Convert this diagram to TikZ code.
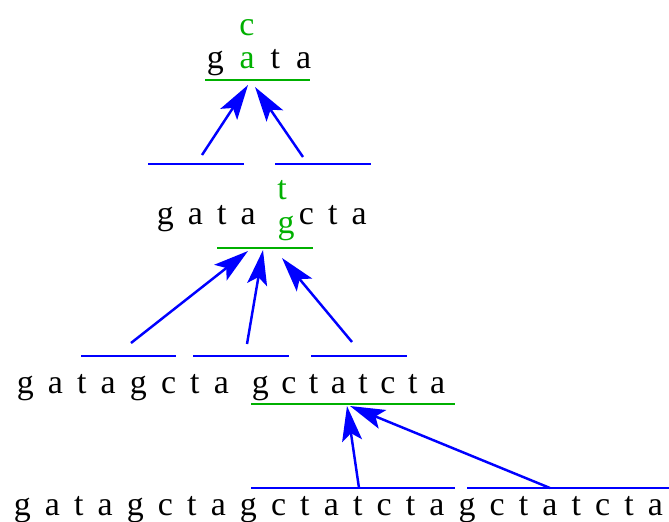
\documentclass[tikz,border=0pt]{standalone}
\usepackage{fontspec}
\setmainfont{Liberation Serif}
\usetikzlibrary{arrows.meta}
\definecolor{seqgreen}{RGB}{0,176,0}
\newcommand\seqfont{\fontsize{19.3}{22}\selectfont\spaceskip=.417em\relax}

\begin{document}
\begin{tikzpicture}[x=0.02cm, y=-0.02cm,
  seq/.style={font=\seqfont, inner sep=0pt, anchor=base west},
  sub/.style={seq, anchor=base, text=seqgreen},
  blueline/.style={blue, line width=1.4pt},
  greenline/.style={seqgreen, line width=1.4pt},
  link/.style={blue, line width=1.4pt, -{Stealth[length=0.7cm, width=0.4cm, inset=0.15cm]}}]
\useasboundingbox (0,0) rectangle (669,521);

% Top row
\node[seq, font={\seqfont\spaceskip=.47em\relax}] (top) at (206.5,68) {g \textcolor{seqgreen}{a} t a};
\node[sub] (topc) at (247,35) {c};
\draw[greenline] (205,80) -- (310,80);

% Second row
\node[seq] (midl) at (156.5,224) {g a t a};
\node[sub] (midt) at (282,199) {t};
\node[sub] (midg) at (286,233) {g};
\node[seq] (midr) at (298.5,224) {c t a};
\draw[blueline] (148,164) -- (244,164);
\draw[blueline] (275,164) -- (371,164);
\draw[greenline] (217,248) -- (313,248);

% Third row
\node[seq] (lowl) at (16.5,393) {g a t a g c t a};
\node[seq, font={\seqfont\spaceskip=.37em\relax}] (lowr) at (251.5,393) {g c t a t c t a};
\draw[blueline] (81,356) -- (176,356);
\draw[blueline] (193,356) -- (289,356);
\draw[blueline] (311,356) -- (407,356);
\draw[greenline] (251,404) -- (455,404);

% Bottom row
\node[seq] (base) at (13.5,515) {g a t a g c t a g c t a t c t a g c t a t c t a};
\draw[blueline] (251,488) -- (455,488);
\draw[blueline] (467,488) -- (669,488);

% Arrow ends
\coordinate (topin1) at (248,85);
\coordinate (topin2) at (255,87);
\coordinate (topout1) at (202,155);
\coordinate (topout2) at (303,157);
\coordinate (midin1) at (248,251);
\coordinate (midin2) at (263,250);
\coordinate (midin3) at (282,258);
\coordinate (midout1) at (131,343);
\coordinate (midout2) at (247,344);
\coordinate (midout3) at (352,342);
\coordinate (lowin1) at (347,406);
\coordinate (lowin2) at (350,406);
\coordinate (lowout1) at (359,488);
\coordinate (lowout2) at (550,488);

% Arrows
\draw[link] (topout1) -- (topin1);
\draw[link] (topout2) -- (topin2);
\draw[link] (midout1) -- (midin1);
\draw[link] (midout2) -- (midin2);
\draw[link] (midout3) -- (midin3);
\draw[link] (lowout1) -- (lowin1);
\draw[link] (lowout2) -- (lowin2);
\end{tikzpicture}
\end{document}
